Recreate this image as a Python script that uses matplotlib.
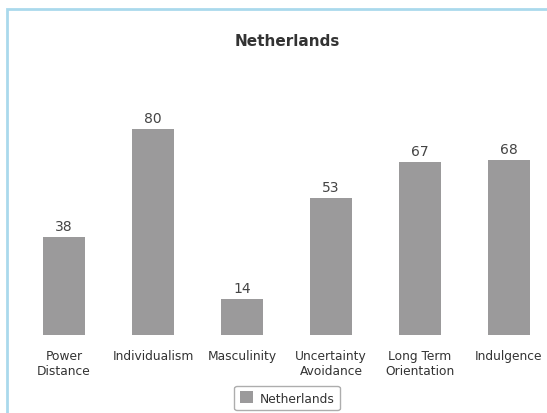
import matplotlib.pyplot as plt
from matplotlib.patches import Rectangle

categories = ["Power\nDistance", "Individualism", "Masculinity",
              "Uncertainty\nAvoidance", "Long Term\nOrientation", "Indulgence"]
scores = [38, 80, 14, 53, 67, 68]
series_name = "Netherlands"

fig = plt.figure(figsize=(5.47, 4.14), dpi=100)

# light blue frame at top/left (image is cropped on the other sides)
fig.add_artist(Rectangle((6.5 / 547, -0.1), 1.2, 1.1 - 10.5 / 414,
                         transform=fig.transFigure, fill=False,
                         edgecolor="#aad9ec", linewidth=2))

ax = fig.add_axes([19.5 / 547, 78 / 414, 534 / 547, 258 / 414])
x = range(len(scores))
bars = ax.bar(x, scores, width=0.48, color="#9b9a9b", label=series_name)
for xi, v in zip(x, scores):
    ax.text(xi, v + 1.5, str(v), ha="center", va="bottom",
            fontsize=10, color="#444444")

ax.set_xlim(-0.5, 5.5)
ax.set_ylim(0, 100)
ax.set_xticks(list(x))
ax.set_xticklabels(categories, fontsize=8.8, color="#333333")
ax.tick_params(axis="x", length=0, pad=10)
ax.set_yticks([])
for s in ax.spines.values():
    s.set_visible(False)

fig.text(287 / 547, 1 - 42 / 414, "Netherlands", ha="center", va="center",
         fontsize=11, fontweight="bold", color="#333333")

fig.legend(handles=[bars], labels=[series_name], loc="center",
           bbox_to_anchor=(287 / 547, 1 - 399 / 414), fontsize=8.8,
           frameon=True, fancybox=True, edgecolor="#999999",
           handlelength=1.1, handleheight=1.1, handletextpad=0.5,
           borderpad=0.45, labelcolor="#333333")

fig.savefig("out.png", dpi=100)
